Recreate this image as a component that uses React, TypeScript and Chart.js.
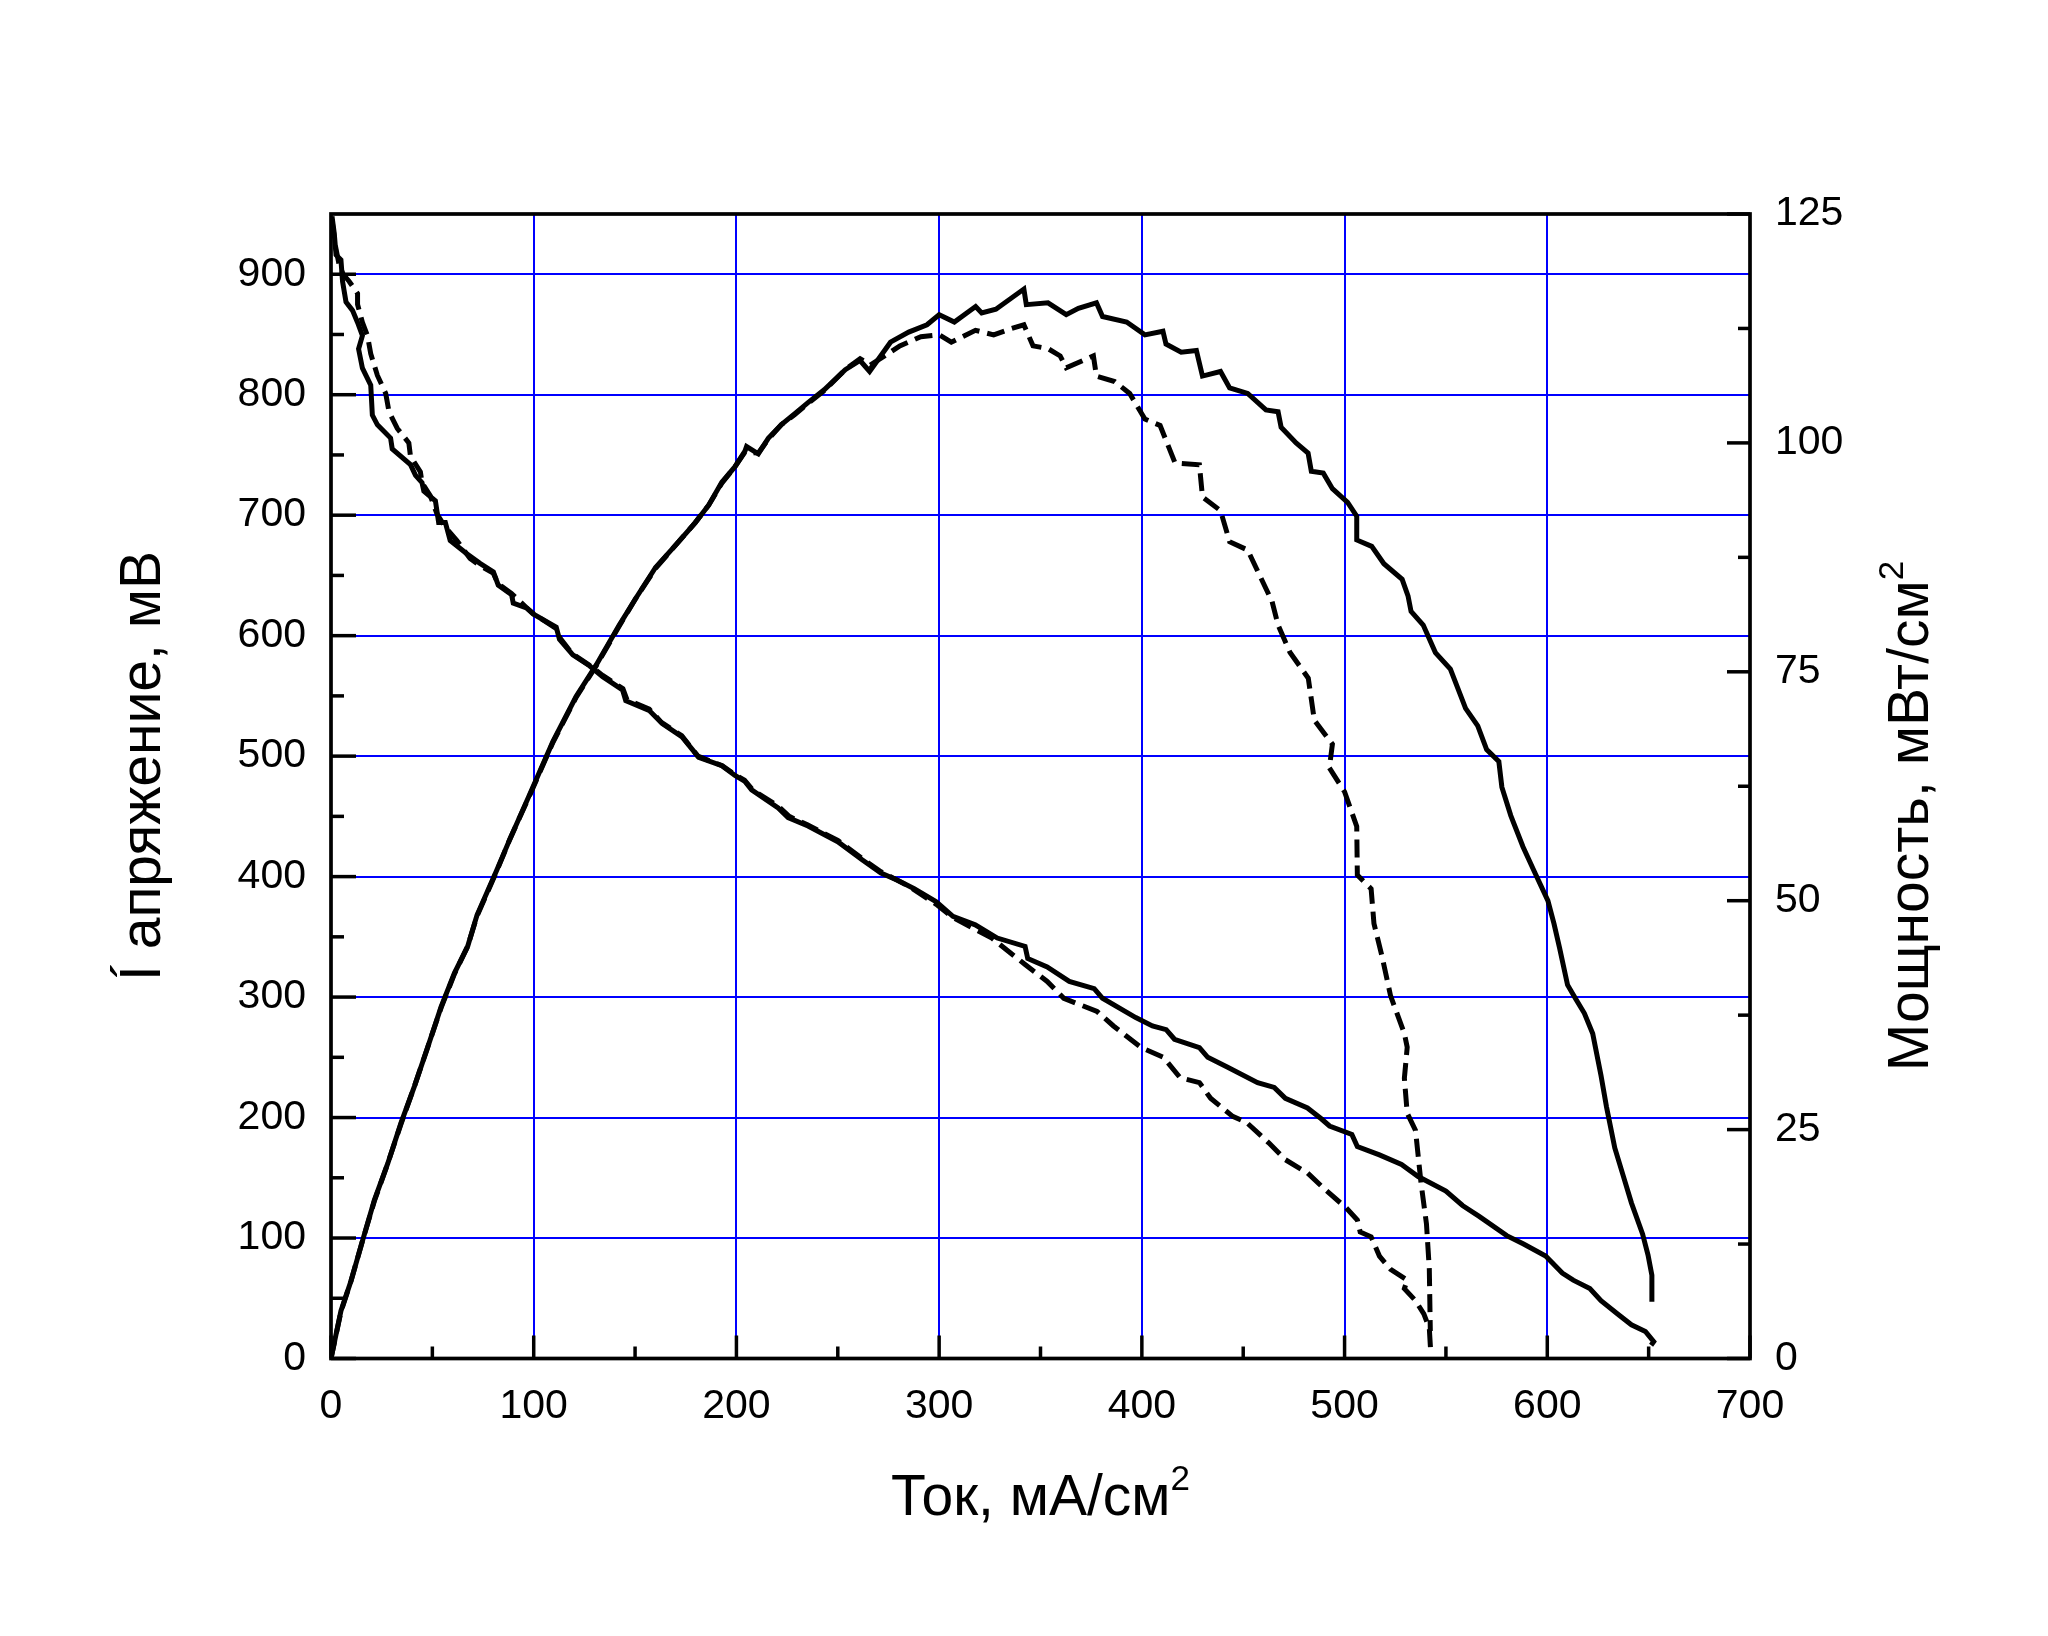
import React, { useEffect, useRef } from 'react';
import Chart from 'chart.js/auto';

const FONT = '"Liberation Sans", Arial, sans-serif';

// Axis settings
const xTickValues = [0, 100, 200, 300, 400, 500, 600, 700];
const xMax = 700;
const vMax = 950;
const pMax = 125;
const xMinorStep = 50;
const vMinorStep = 50;
const pMinorStep = 12.5;

const xTitle = 'Ток, мА/см';
const vTitle = 'Í апряжение, мВ';
const pTitle = 'Мощность, мВт/см';
const supText = '2';

// Solid voltage curve
const currentSolidV = [0.5, 1.6, 2.5, 4.9, 5.7, 7.4, 10.6, 13.1, 15.5, 13.6, 15.5, 19.6, 20.4, 22.9, 29.4, 30.2, 39.2, 41.7, 44.9, 45.8, 51.5, 53.1, 56.4, 58.8, 67, 73.5, 80.1, 82.5, 89.1, 89.9, 96.4, 99.7, 111.1, 112.7, 119.3, 127.5, 134, 143.8, 145.4, 156.9, 163.4, 173.2, 181.4, 192.8, 199.3, 204.2, 207.5, 220.6, 225.5, 235.3, 250, 262, 271.3, 279.5, 287.7, 298.6, 306.8, 317.8, 328.7, 342.4, 343.7, 353.3, 364.2, 376.5, 380.6, 397, 405.2, 412, 416.1, 428.4, 432.5, 442.1, 457.1, 465.3, 470.8, 481.7, 488.5, 492.6, 503.6, 506.3, 517.2, 528.1, 536.3, 550, 558.2, 566.4, 580, 588.3, 599.2, 607.4, 612.8, 621, 626.5, 634.7, 641.5, 648.4, 652.5, 651.2];
const voltageSolid = [948, 934, 916, 912, 894, 877, 870, 860, 849, 838, 822, 808, 783, 775, 764, 755, 742, 733, 727, 720, 712, 694, 694, 679, 668, 660, 653, 642, 634, 627, 623, 618, 607, 597, 584, 575, 566, 555, 546, 538, 527, 516, 499, 492, 484, 479, 472, 457, 449, 442, 429, 414, 403, 397, 390, 379, 367, 360, 349, 342, 332, 325, 313, 307, 299, 283, 276, 273, 265, 258, 250, 242, 229, 225, 216, 208, 199, 193, 186, 176, 169, 161, 151, 139, 127, 118, 102, 95, 85, 71, 65, 58, 48, 37, 28, 22.5, 14, 11];

// Dashed voltage curve
const currentDashedV = [0.5, 2, 4, 6, 9, 13.1, 13.1, 15.5, 18, 19.6, 22.9, 27, 28.6, 32.7, 38.4, 39.2, 44.1, 44.9, 49, 52.3, 56.4, 62.1, 68.6, 72.7, 80, 82.5, 89, 96, 100, 111, 113, 119, 127, 134, 144, 146, 157, 163, 173, 181, 193, 199, 204, 208, 221, 226, 235, 250, 262, 271.3, 285, 298.6, 306.8, 326, 342.4, 353.3, 361.5, 377.9, 386, 399.7, 410.7, 418.9, 428.4, 433.9, 444.8, 451.6, 462.6, 470.8, 481.7, 489.9, 500.8, 506.3, 507.7, 513.1, 517.2, 522.7, 530.9, 529.5, 535, 539.1, 541.8, 542.3, 542.5];
const voltageDashed = [945, 925, 908, 900, 894, 884, 875, 860, 849, 834, 816, 801, 786, 772, 760, 749, 736, 727, 716, 701, 690, 679, 664, 659, 652, 643, 635, 624, 618, 606, 598, 585, 576, 567, 556, 547, 539, 528, 517, 500, 492, 485, 480, 472, 458, 450, 443, 430, 415, 404, 392, 377, 366, 349, 327, 313, 299, 288, 276, 258, 250, 233, 229, 216, 201, 196, 179, 165, 154, 141, 125, 115, 105, 101, 85, 74, 65, 58, 48, 37, 25, 11, 5];

// Solid power curve
const currentSolidP = [0, 4.9, 9.9, 15.6, 21.4, 28, 34.5, 41.1, 47.7, 54.3, 60.9, 67.4, 72, 81.7, 88.2, 98, 109.5, 120.9, 130.7, 142.2, 150.3, 160.1, 169.9, 179.7, 186.3, 192.8, 199.3, 204.2, 205, 210.8, 215.7, 222.2, 228.8, 235.3, 243.3, 253.7, 261, 265.7, 276, 285, 294, 300, 307.5, 318, 321, 328, 341.8, 343, 353.7, 362.7, 368.7, 377.6, 380.6, 392.5, 401.5, 410.4, 411.9, 419.4, 426.9, 429.9, 438.8, 443.3, 452.2, 461.2, 467.2, 468.7, 476.1, 482, 483.6, 489.5, 494, 501.5, 506, 506, 513.4, 519.4, 528.4, 531.3, 532.8, 538.8, 544.8, 552.2, 559.7, 565.7, 570.1, 576.1, 577.6, 582, 588, 594, 600.3, 603.3, 606, 610, 614.2, 618.3, 622.4, 626.5, 629.2, 633.3, 637.4, 641.5, 647, 649.7, 651.6, 651.6];
const powerSolid = [0, 5.2, 8.5, 12.9, 17.3, 21.3, 25.7, 29.7, 34.0, 38.4, 42.1, 45.0, 48.4, 53.3, 56.7, 61.6, 67.4, 72.3, 75.7, 80.1, 83.0, 86.4, 88.8, 91.3, 93.2, 95.7, 97.4, 99.1, 99.6, 98.8, 100.5, 102.0, 103.2, 104.4, 105.8, 108.0, 109.0, 107.8, 111.0, 112.1, 112.9, 114.0, 113.2, 114.9, 114.2, 114.6, 116.8, 115.1, 115.3, 114.0, 114.7, 115.3, 113.8, 113.2, 111.8, 112.2, 110.8, 109.9, 110.1, 107.3, 107.8, 106.0, 105.4, 103.6, 103.4, 101.7, 100.0, 98.9, 96.9, 96.7, 95.0, 93.5, 92.0, 89.4, 88.7, 86.8, 85.1, 83.3, 81.6, 80.1, 77.1, 75.3, 71.0, 69.1, 66.5, 65.2, 62.4, 59.3, 55.9, 53.0, 50.0, 47.5, 44.9, 40.8, 39.2, 37.7, 35.5, 30.9, 27.5, 23.0, 20.0, 17.0, 13.6, 11.3, 9.1, 6.2];

// Dashed power curve
const currentDashedP = [0, 4.9, 9.9, 15.6, 21.4, 28, 34.5, 41.1, 47.7, 54.3, 60.9, 67.4, 72, 81.7, 88.2, 98, 109.5, 120.9, 130.7, 142.2, 150.3, 160.1, 169.9, 179.7, 186.3, 192.8, 199.3, 204.2, 210.8, 215.7, 222.2, 228.8, 235.3, 243.3, 253.7, 261, 266, 273.1, 280.6, 291, 300, 306, 317.9, 326.9, 335.8, 341.8, 346.3, 353.7, 359.7, 362.7, 376.1, 377.6, 386.6, 394, 401.5, 409, 416.4, 428.4, 429.9, 438.8, 443.3, 452.2, 458.2, 464.2, 467.2, 473.1, 482.1, 485.1, 494, 492.5, 500, 506, 506.3, 513.1, 514.5, 518.6, 522.7, 529.5, 530.9, 529.5, 530.9, 535, 537.7, 540.4, 541.8, 542.3];
const powerDashed = [0, 5.1, 8.5, 12.9, 17.2, 21.3, 25.6, 29.7, 34.0, 38.3, 42.0, 45.0, 48.3, 53.2, 56.7, 61.5, 67.3, 72.2, 75.6, 80.0, 83.0, 86.3, 88.8, 91.3, 93.2, 95.6, 97.4, 99.0, 98.9, 100.4, 102.0, 103.1, 104.3, 105.7, 108.0, 109.2, 108.5, 109.5, 110.6, 111.6, 111.8, 111.0, 112.3, 111.8, 112.5, 112.9, 110.6, 110.3, 109.5, 108.2, 109.5, 107.3, 106.7, 105.4, 102.6, 101.9, 97.8, 97.6, 94.1, 92.6, 89.2, 88.3, 85.5, 82.7, 80.1, 77.1, 74.3, 69.7, 67.1, 64.5, 61.9, 58.1, 52.8, 51.3, 47.5, 43.8, 39.6, 35.5, 34.0, 30.6, 26.8, 24.9, 19.2, 14.7, 9.8, 3.0];

const toPoints = (xs: number[], ys: number[]) => xs.map((x, i) => ({ x, y: ys[i] }));

export default function App() {
  const ref = useRef<HTMLCanvasElement | null>(null);

  useEffect(() => {
    if (!ref.current) return;

    const decor = {
      id: 'decor',
      afterDraw(chart: any) {
        const { ctx, chartArea: a, scales } = chart;
        const x = scales.x;
        const yV = scales.yV;
        const yP = scales.yP;
        ctx.save();
        ctx.strokeStyle = '#000';
        ctx.lineCap = 'butt';
        ctx.lineWidth = 3.5;
        const line = (x1: number, y1: number, x2: number, y2: number) => {
          ctx.beginPath();
          ctx.moveTo(x1, y1);
          ctx.lineTo(x2, y2);
          ctx.stroke();
        };
        for (let v = 0; v <= xMax; v += xMinorStep) {
          const px = x.getPixelForValue(v);
          const len = v % 100 === 0 ? 23 : 12;
          line(px, a.bottom, px, a.bottom - len);
        }
        for (let v = 0; v <= 900; v += vMinorStep) {
          const py = yV.getPixelForValue(v);
          const len = v % 100 === 0 ? 25 : 13;
          line(a.left, py, a.left + len, py);
        }
        for (let v = 0; v <= pMax; v += pMinorStep) {
          const py = yP.getPixelForValue(v);
          const len = v % 25 === 0 ? 23 : 12;
          line(a.right, py, a.right - len, py);
        }
        ctx.lineWidth = 3.7;
        ctx.strokeRect(a.left, a.top, a.right - a.left, a.bottom - a.top);

        // Titles
        ctx.fillStyle = '#000';
        ctx.textBaseline = 'alphabetic';
        const mainFont = `57px ${FONT}`;
        const supFont = `35px ${FONT}`;
        const drawWithSup = (main: string, cx: number, cy: number, rot: number) => {
          ctx.save();
          ctx.translate(cx, cy);
          ctx.rotate(rot);
          ctx.font = mainFont;
          const w1 = ctx.measureText(main).width;
          ctx.font = supFont;
          const w2 = ctx.measureText(supText).width;
          const start = -(w1 + w2) / 2;
          ctx.textAlign = 'left';
          ctx.font = mainFont;
          ctx.fillText(main, start, 0);
          ctx.font = supFont;
          ctx.fillText(supText, start + w1, -25);
          ctx.restore();
        };
        drawWithSup(xTitle, (a.left + a.right) / 2, 1507, 0);
        drawWithSup(pTitle, 1920, 808, -Math.PI / 2);

        ctx.save();
        ctx.translate(152, 758);
        ctx.rotate(-Math.PI / 2);
        ctx.font = mainFont;
        ctx.textAlign = 'center';
        ctx.fillText(vTitle, 0, 0);
        ctx.restore();

        ctx.restore();
      },
    };

    const tickFont = { family: FONT, size: 41 };

    const chart = new Chart(ref.current, {
      type: 'line',
      data: {
        datasets: [
          {
            label: 'U1',
            data: toPoints(currentSolidV, voltageSolid),
            yAxisID: 'yV',
            borderColor: '#000',
            borderWidth: 5,
            pointRadius: 0,
            tension: 0,
            fill: false,
          },
          {
            label: 'U2',
            data: toPoints(currentDashedV, voltageDashed),
            yAxisID: 'yV',
            borderColor: '#000',
            borderWidth: 5,
            borderDash: [18, 8],
            pointRadius: 0,
            tension: 0,
            fill: false,
          },
          {
            label: 'P1',
            data: toPoints(currentSolidP, powerSolid),
            yAxisID: 'yP',
            borderColor: '#000',
            borderWidth: 5,
            pointRadius: 0,
            tension: 0,
            fill: false,
          },
          {
            label: 'P2',
            data: toPoints(currentDashedP, powerDashed),
            yAxisID: 'yP',
            borderColor: '#000',
            borderWidth: 5,
            borderDash: [18, 8],
            pointRadius: 0,
            tension: 0,
            fill: false,
          },
        ],
      },
      options: {
        responsive: false,
        animation: false,
        devicePixelRatio: 1,
        layout: { padding: { top: 206, left: 0, right: 0, bottom: 0 } },
        plugins: {
          legend: { display: false },
          tooltip: { enabled: false },
        },
        scales: {
          x: {
            type: 'linear',
            position: 'bottom',
            min: 0,
            max: xMax,
            afterFit: (s: any) => {
              s.height = 249.5;
            },
            afterBuildTicks: (s: any) => {
              s.ticks = xTickValues.map((v) => ({ value: v }));
            },
            ticks: {
              stepSize: 100,
              font: tickFont,
              color: '#000',
              padding: 24,
              maxRotation: 0,
            },
            grid: { color: '#0000FF', lineWidth: 2, drawTicks: false },
            border: { display: false },
          },
          yV: {
            type: 'linear',
            position: 'left',
            min: 0,
            max: vMax,
            afterFit: (s: any) => {
              s.width = 323;
            },
            ticks: {
              stepSize: 100,
              includeBounds: false,
              font: tickFont,
              color: '#000',
              padding: 25,
              labelOffset: 0,
            },
            grid: { color: '#0000FF', lineWidth: 2, drawTicks: false },
            border: { display: false },
          },
          yP: {
            type: 'linear',
            position: 'right',
            min: 0,
            max: pMax,
            afterFit: (s: any) => {
              s.width = 290;
            },
            ticks: {
              stepSize: 25,
              font: tickFont,
              color: '#000',
              padding: 25,
              labelOffset: 0,
            },
            grid: { display: false, drawTicks: false },
            border: { display: false },
          },
        },
      },
      plugins: [decor],
    } as any);

    return () => chart.destroy();
  }, []);

  return (
    <canvas
      ref={ref}
      width={2032}
      height={1600}
      style={{ display: 'block', width: '2032px', height: '1600px' }}
    />
  );
}
